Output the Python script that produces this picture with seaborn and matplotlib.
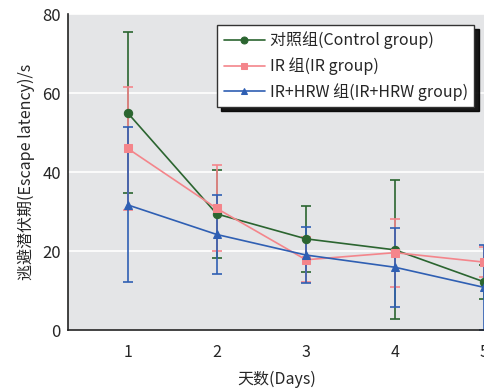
import matplotlib
matplotlib.use("Agg")
import matplotlib.pyplot as plt
import seaborn as sns
import pandas as pd
import numpy as np

days = [1, 2, 3, 4, 5]
groups = ["对照组(Control group)", "IR 组(IR group)", "IR+HRW 组(IR+HRW group)"]
control = [55.0, 29.4, 23.1, 20.3, 12.2]
control_err = [20.4, 11.1, 8.3, 17.6, 4.4]
ir = [46.0, 30.8, 17.8, 19.6, 17.2]
ir_err = [15.5, 10.9, 5.7, 8.6, 3.8]
hrw = [31.7, 24.2, 19.0, 15.9, 10.8]
hrw_err = [19.6, 9.9, 7.2, 10.0, 10.8]

colors = ["#2b6530", "#f4858b", "#2f5fb3"]
markers = ["o", "s", "^"]

sns.set_theme(style="white")
plt.rcParams['font.family'] = ['Noto Sans CJK SC', 'DejaVu Sans']

df = pd.DataFrame({
    "day": days * 3,
    "value": control + ir + hrw,
    "group": [groups[0]] * 5 + [groups[1]] * 5 + [groups[2]] * 5,
})

fig = plt.figure(figsize=(4.85, 3.92), dpi=100)
ax = fig.add_axes([0.140, 0.158, 0.862, 0.806])
ax.set_facecolor("#e4e5e7")

for vals, errs, c in zip([control, ir, hrw], [control_err, ir_err, hrw_err], colors):
    ax.errorbar(days, vals, yerr=errs, fmt="none", ecolor=c, elinewidth=1.2,
                capsize=3.5, capthick=1.2, zorder=2)

sns.lineplot(data=df, x="day", y="value", hue="group", style="group",
             palette=colors, markers=markers, dashes=False, markersize=6,
             markeredgecolor=None, linewidth=1.2, ax=ax, zorder=3)

ax.set_xlim(0.33, 5.02)
ax.set_ylim(0, 80)
ax.set_yticks([0, 20, 40, 60, 80])
ax.set_xticks(days)
ax.grid(axis="y", color="white", linewidth=1.2)
ax.set_axisbelow(True)
for s in ["top", "right"]:
    ax.spines[s].set_visible(False)
for s in ["left", "bottom"]:
    ax.spines[s].set_color("#222222")
    ax.spines[s].set_linewidth(1.2)
ax.tick_params(axis="x", direction="in", length=4, width=1, color="#333333",
               labelsize=11.5, pad=10)
ax.tick_params(axis="y", length=0, labelsize=12, pad=5)
ax.set_xlabel("天数(Days)", fontsize=11.5, labelpad=7)
ax.set_ylabel("逃避潜伏期(Escape latency)/s", fontsize=11.5, labelpad=5)

handles, labels = ax.get_legend_handles_labels()
leg = ax.legend(handles, labels, loc="upper left", bbox_to_anchor=(0.357, 0.965),
                borderaxespad=0, frameon=True, fancybox=False,
                shadow={"color": "black", "alpha": 0.9, "ox": 3, "oy": -3},
                fontsize=11.5,
                handlelength=2.6, handletextpad=0.3, labelspacing=0.5,
                borderpad=0.4, title=None)
leg.get_frame().set_edgecolor("#333333")
leg.get_frame().set_facecolor("white")
leg.get_frame().set_linewidth(1.0)
for h in leg.legend_handles:
    h.set_markersize(5)

fig.savefig("out.png", dpi=100)
